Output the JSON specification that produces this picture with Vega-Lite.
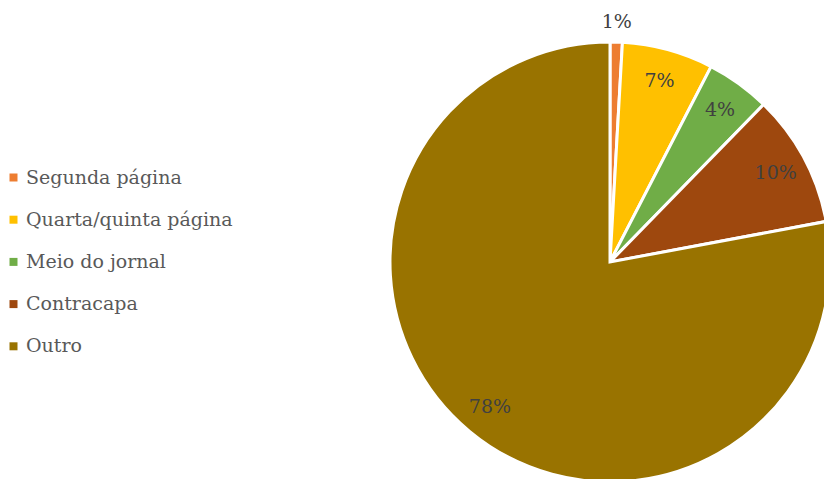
{
  "$schema": "https://vega.github.io/schema/vega-lite/v6.json",
  "autosize": "none",
  "width": 420,
  "height": 434,
  "padding": {"left": 400, "top": 45, "right": 4, "bottom": 0},
  "background": "white",
  "data": {
    "values": [
      {"idx": 1, "cat": "Segunda página", "v": 0.9, "label": "1%"},
      {"idx": 2, "cat": "Quarta/quinta página", "v": 6.7, "label": "7%"},
      {"idx": 3, "cat": "Meio do jornal", "v": 4.7, "label": "4%"},
      {"idx": 4, "cat": "Contracapa", "v": 9.75, "label": "10%"},
      {"idx": 5, "cat": "Outro", "v": 77.95, "label": "78%"}
    ]
  },
  "config": {"view": {"stroke": null}, "font": "DejaVu Serif"},
  "encoding": {
    "theta": {"field": "v", "type": "quantitative", "stack": true},
    "order": {"field": "idx", "type": "quantitative"}
  },
  "layer": [
    {
      "mark": {"type": "arc", "outerRadius": 220, "stroke": "white", "strokeWidth": 3},
      "encoding": {
        "color": {
          "field": "cat",
          "type": "nominal",
          "sort": null,
          "scale": {
            "domain": ["Segunda página", "Quarta/quinta página", "Meio do jornal", "Contracapa", "Outro"],
            "range": ["#ED7D31", "#FFC000", "#70AD47", "#9E480E", "#997300"]
          },
          "legend": {
            "title": null,
            "orient": "none",
            "legendX": -396,
            "legendY": 123,
            "padding": 0,
            "symbolType": "square",
            "symbolSize": 64,
            "symbolStrokeWidth": 0,
            "labelFont": "DejaVu Serif",
            "labelFontSize": 19,
            "labelColor": "#595959",
            "labelOffset": 3,
            "rowPadding": 22.2,
            "labelLimit": 400
          }
        }
      }
    },
    {
      "mark": {"type": "text", "radius": 188, "font": "DejaVu Serif", "fontSize": 19, "color": "#404040"},
      "encoding": {
        "text": {"condition": {"test": "datum.idx === 1", "value": ""}, "field": "label", "type": "nominal"}
      }
    },
    {
      "mark": {"type": "text", "radius": 240, "font": "DejaVu Serif", "fontSize": 19, "color": "#404040"},
      "encoding": {
        "text": {"condition": {"test": "datum.idx !== 1", "value": ""}, "field": "label", "type": "nominal"}
      }
    }
  ]
}
